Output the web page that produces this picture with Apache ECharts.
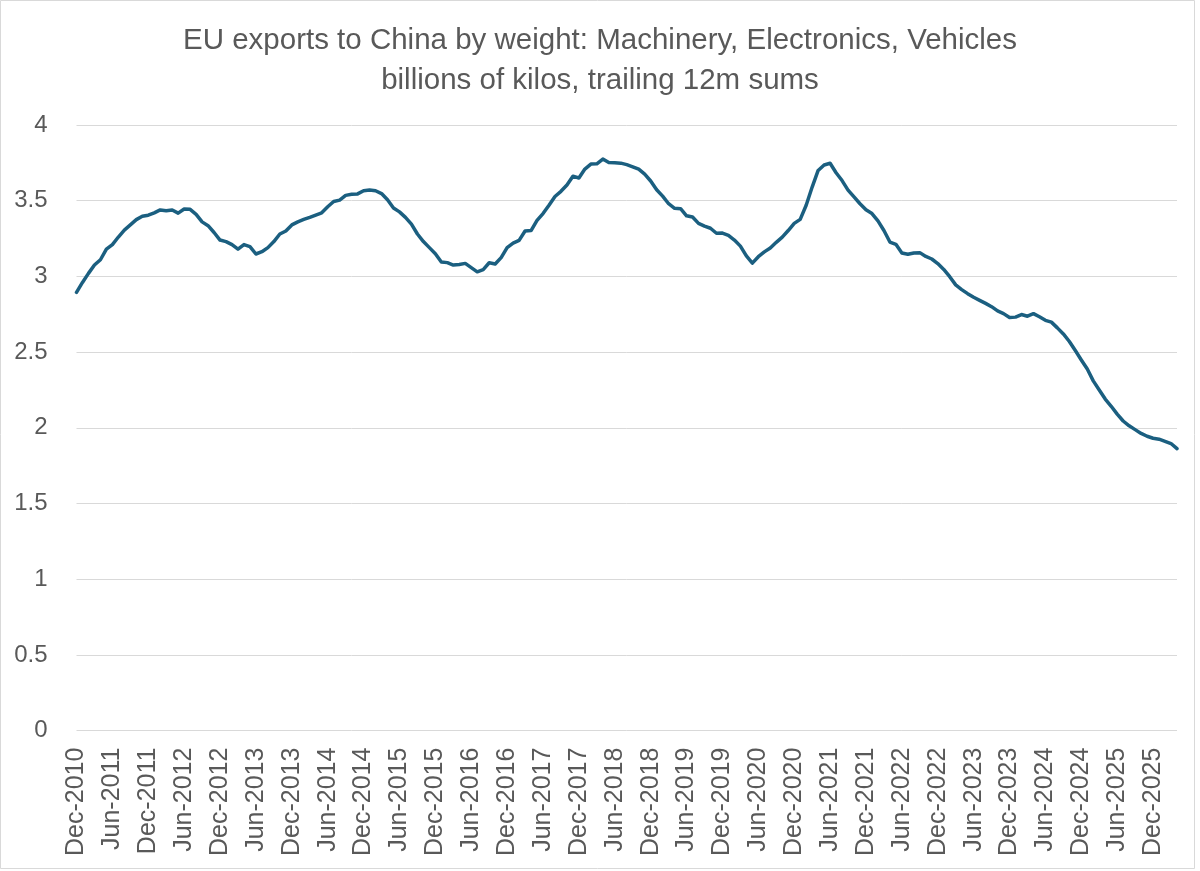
<!DOCTYPE html>
<html>
<head>
<meta charset="utf-8">
<script src="https://cdn.jsdelivr.net/npm/echarts@6/dist/echarts.min.js"></script>
<style>
  html, body { margin: 0; padding: 0; background: #ffffff; }
  #chart { width: 1200px; height: 871px; }
</style>
</head>
<body>
<div id="chart"></div>
<script>
// Monthly categories, starting Dec-2010 (one entry per month)
const monthNames = ['Jan','Feb','Mar','Apr','May','Jun','Jul','Aug','Sep','Oct','Nov','Dec'];
const startYear = 2010, startMonth = 11; // Dec-2010

// Trailing 12m sums, billions of kilos
const values = [
  2.895, 2.96, 3.02, 3.075, 3.11, 3.18, 3.21, 3.26, 3.306, 3.34,
  3.375, 3.397, 3.404, 3.42, 3.439, 3.434, 3.439, 3.418, 3.445, 3.443,
  3.41, 3.36, 3.335, 3.29, 3.24, 3.23, 3.21, 3.18, 3.21, 3.197,
  3.148, 3.163, 3.19, 3.23, 3.28, 3.30, 3.34, 3.36, 3.376, 3.39,
  3.405, 3.42, 3.46, 3.495, 3.504, 3.535, 3.542, 3.545, 3.566, 3.571,
  3.566, 3.547, 3.506, 3.452, 3.426, 3.39, 3.345, 3.28, 3.23, 3.19,
  3.15, 3.095, 3.091, 3.075, 3.079, 3.086, 3.058, 3.03, 3.045, 3.09,
  3.082, 3.124, 3.19, 3.22, 3.238, 3.30, 3.303, 3.37, 3.415, 3.47,
  3.528, 3.562, 3.604, 3.662, 3.65, 3.709, 3.742, 3.744, 3.775, 3.752,
  3.75, 3.748, 3.738, 3.724, 3.708, 3.675, 3.63, 3.572, 3.53, 3.48,
  3.45, 3.447, 3.40, 3.392, 3.35, 3.332, 3.318, 3.285, 3.286, 3.271,
  3.24, 3.20, 3.135, 3.088, 3.13, 3.162, 3.188, 3.225, 3.259, 3.303,
  3.35, 3.377, 3.47, 3.59, 3.70, 3.736, 3.747, 3.685, 3.633, 3.57,
  3.525, 3.48, 3.44, 3.415, 3.367, 3.303, 3.227, 3.212, 3.155, 3.146,
  3.155, 3.157, 3.132, 3.115, 3.085, 3.046, 2.998, 2.944, 2.913, 2.886,
  2.862, 2.842, 2.822, 2.80, 2.772, 2.754, 2.728, 2.731, 2.748, 2.737,
  2.754, 2.733, 2.71, 2.698, 2.66, 2.62, 2.57, 2.51, 2.448, 2.388,
  2.31, 2.25, 2.19, 2.142, 2.09, 2.045, 2.013, 1.988, 1.963, 1.944,
  1.931, 1.925, 1.911, 1.896, 1.862
];

const categories = values.map(function (_, i) {
  const m = (startMonth + i) % 12;
  const y = startYear + Math.floor((startMonth + i) / 12);
  return monthNames[m] + '-' + y;
});

const yTicks = { min: 0, max: 4, interval: 0.5 };
const titleLines = ['EU exports to China by weight: Machinery, Electronics, Vehicles',
                    'billions of kilos, trailing 12m sums'];

const chart = echarts.init(document.getElementById('chart'), null, { renderer: 'canvas' });
const FONT = '"Liberation Sans", Arial, sans-serif';
const GREY = '#595959';

chart.setOption({
  animation: false,
  backgroundColor: '#ffffff',
  title: {
    text: titleLines.join('\n'),
    left: 'center',
    top: 16,
    textStyle: {
      fontFamily: FONT,
      fontSize: 29.5,
      fontWeight: 'normal',
      color: GREY,
      lineHeight: 40
    }
  },
  graphic: [{
    type: 'rect',
    shape: { x: 0.5, y: 0.5, width: 1194, height: 868 },
    style: { fill: 'none', stroke: '#d9d9d9', lineWidth: 1 },
    silent: true
  }],
  grid: { left: 76.5, right: 23, top: 125, bottom: 140.4, containLabel: false },
  xAxis: {
    type: 'category',
    data: categories,
    boundaryGap: false,
    axisLine: { show: false },
    axisTick: { show: false },
    splitLine: { show: false },
    axisLabel: {
      interval: 5,
      rotate: 90,
      margin: 17,
      fontFamily: FONT,
      fontSize: 25,
      color: GREY
    }
  },
  yAxis: {
    type: 'value',
    min: yTicks.min,
    max: yTicks.max,
    interval: yTicks.interval,
    axisLine: { show: false },
    axisTick: { show: false },
    splitLine: { lineStyle: { color: '#d9d9d9', width: 1 } },
    axisLabel: {
      margin: 29,
      fontFamily: FONT,
      fontSize: 24,
      color: GREY
    }
  },
  series: [{
    type: 'line',
    data: values,
    showSymbol: false,
    smooth: false,
    lineStyle: { color: '#1b5f80', width: 3.5, cap: 'round', join: 'round' },
    itemStyle: { color: '#1b5f80' }
  }]
});
</script>
</body>
</html>
